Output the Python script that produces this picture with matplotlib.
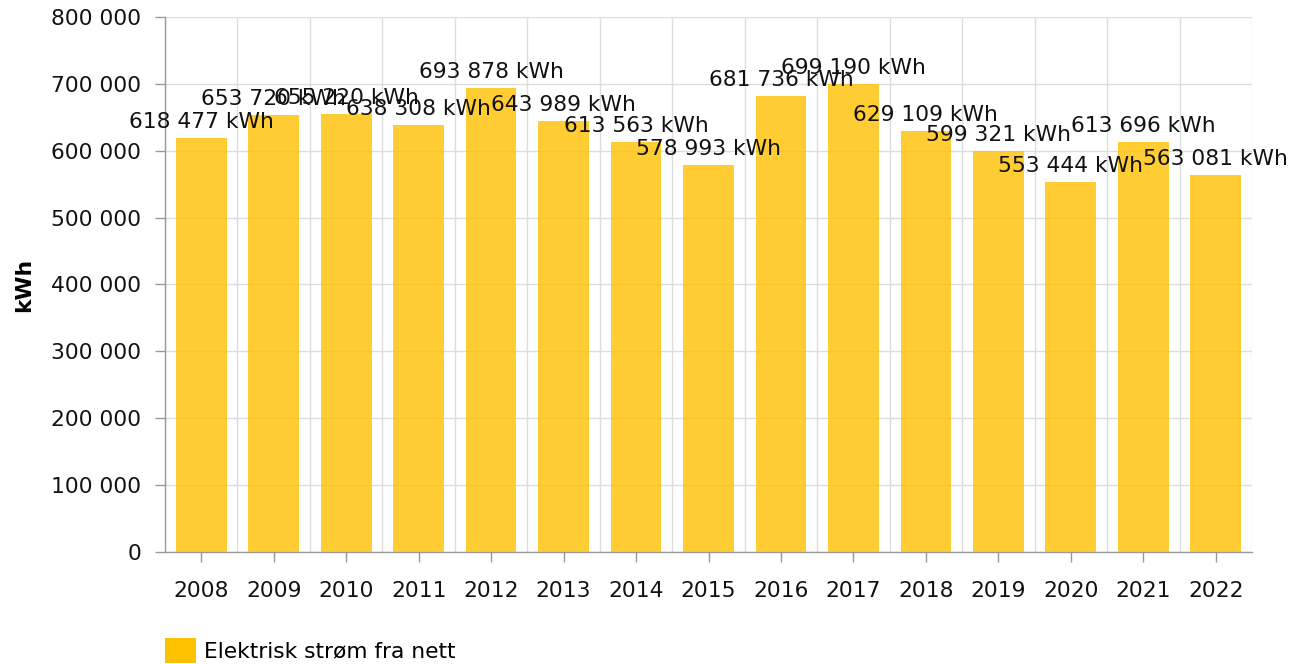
import matplotlib
matplotlib.use("Agg")
import matplotlib.pyplot as plt
from matplotlib.patches import Patch
from matplotlib.ticker import FuncFormatter, MultipleLocator

years = ["2008", "2009", "2010", "2011", "2012", "2013", "2014", "2015",
         "2016", "2017", "2018", "2019", "2020", "2021", "2022"]
values = [618477, 653720, 655220, 638308, 693878, 643989, 613563, 578993,
          681736, 699190, 629109, 599321, 553444, 613696, 563081]
series_name = "Elektrisk strøm fra nett"
y_label = "kWh"

FS = 15.7
plt.rcParams['font.family'] = ['DejaVu Sans']

fig = plt.figure(figsize=(13.04, 6.64), dpi=100)
ax = fig.add_axes([165/1304, 1-552/664, (1252-165)/1304, (552-17)/664])

x = list(range(len(years)))
ax.bar(x, values, width=0.70, color='#FFC000', alpha=0.8, zorder=3)

def fmt(v):
    return f"{int(v):,}".replace(",", " ")

for xi, v in zip(x, values):
    ax.annotate(f"{fmt(v)} kWh", (xi, v), xytext=(0, 11.5), textcoords='offset points',
                ha='center', va='center', fontsize=FS, color='#111111', zorder=5)

ax.set_xlim(-0.5, len(years)-0.5)
ax.set_ylim(0, 800000)
ax.yaxis.set_major_locator(MultipleLocator(100000))
ax.yaxis.set_major_formatter(FuncFormatter(lambda v, p: fmt(v)))
ax.set_xticks(x)
ax.set_xticklabels(years)
ax.set_xticks([i + 0.5 for i in range(-1, len(years))], minor=True)

ax.grid(axis='y', which='major', color='#dddddd', linewidth=1, zorder=0)
ax.grid(axis='x', which='minor', color='#dddddd', linewidth=1, zorder=0)
ax.tick_params(axis='x', which='minor', length=0)
ax.tick_params(axis='x', which='major', length=7, width=1, color='#999999',
               labelsize=FS, pad=14, labelcolor='#111111')
ax.tick_params(axis='y', which='major', length=7, width=1, color='#999999',
               labelsize=FS, pad=10, labelcolor='#111111')

for s in ['top', 'right']:
    ax.spines[s].set_visible(False)
ax.spines['left'].set_color('#999999')
ax.spines['bottom'].set_color('#999999')
ax.spines['left'].set_linewidth(1)
ax.spines['bottom'].set_linewidth(1)

ax.set_ylabel(y_label, fontsize=FS, fontweight='bold', labelpad=12)

handle = Patch(facecolor='#FFC000', edgecolor='none')
fig.legend([handle], [series_name], loc='lower left',
           bbox_to_anchor=(164/1304, 0.0), frameon=False, fontsize=FS,
           handlelength=1.4, handleheight=1.4, handletextpad=0.38,
           borderaxespad=0, borderpad=0.05)

fig.savefig("out.png", dpi=100)
